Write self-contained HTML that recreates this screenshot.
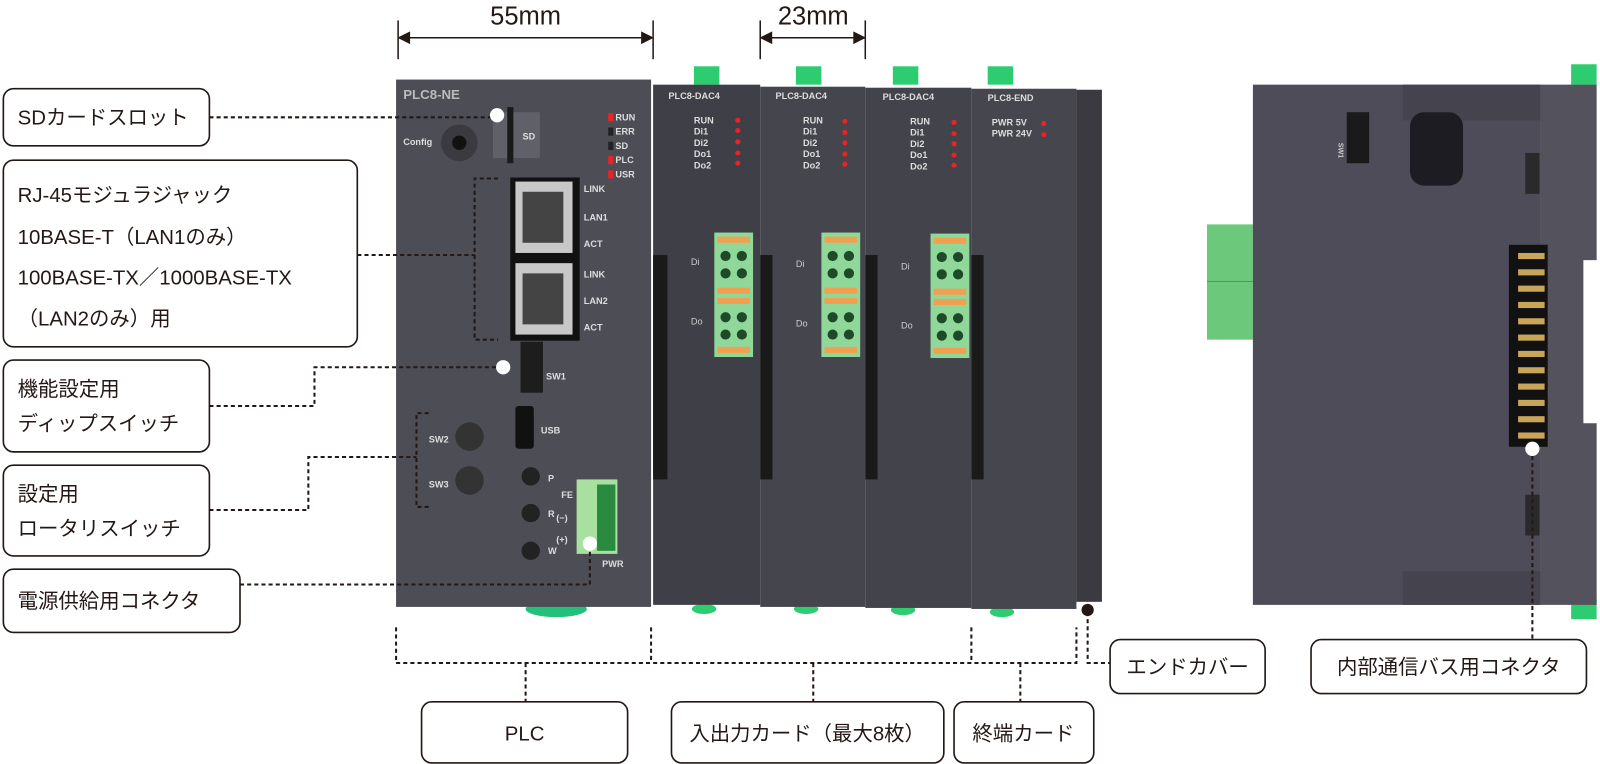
<!DOCTYPE html>
<html><head><meta charset="utf-8"><style>
html,body{margin:0;padding:0;background:#fff;width:1600px;height:764px;overflow:hidden}
svg{display:block}
text{font-family:"Liberation Sans","Noto Sans CJK JP",sans-serif}
.lb{font-size:20px;fill:#231815}
.dl{stroke:#231815;stroke-width:2;stroke-dasharray:4 3;fill:none}
.bx{fill:#fff;stroke:#231815;stroke-width:1.6}
.w{fill:#ddd;font-weight:bold;font-size:9px}
</style></head><body>
<svg width="1600" height="764" viewBox="0 0 1568 749" xmlns="http://www.w3.org/2000/svg">
<!-- dimension lines -->
<g stroke="#231815" stroke-width="1.5" fill="#231815">
<line x1="390" y1="20" x2="390" y2="58"/><line x1="640" y1="20" x2="640" y2="58"/>
<line x1="392" y1="37" x2="638" y2="37"/>
<path d="M391 37 l10 -5 v10z M639 37 l-10 -5 v10z"/>
<line x1="745" y1="20" x2="745" y2="58"/><line x1="848" y1="20" x2="848" y2="58"/>
<line x1="747" y1="37" x2="846" y2="37"/>
<path d="M746 37 l10 -5 v10z M847 37 l-10 -5 v10z"/>
</g>
<text x="515" y="24" font-size="25" text-anchor="middle" fill="#231815">55mm</text>
<text x="797" y="24" font-size="25" text-anchor="middle" fill="#231815">23mm</text>

<!-- front modules -->
<ellipse cx="545" cy="597" rx="30" ry="8" fill="#22c07a"/>
<rect x="388" y="78" width="250" height="517" fill="#4d4d56"/>
<text x="395" y="97" font-size="13" font-weight="bold" fill="#bbb">PLC8-NE</text>
<text x="395" y="142" class="w">Config</text>
<circle cx="450" cy="140" r="18" fill="#3a3a40"/><circle cx="450" cy="140" r="7" fill="#111"/>
<rect x="483" y="110" width="46" height="45" fill="#606068"/><rect x="497" y="105" width="6" height="55" fill="#1a1a1a"/>
<text x="512" y="137" class="w" fill="#999">SD</text>
<g font-size="9" font-weight="bold" fill="#ddd">
<rect x="596" y="111" width="5" height="8" fill="#e22"/><text x="603" y="118">RUN</text>
<rect x="596" y="125" width="5" height="8" fill="#222"/><text x="603" y="132">ERR</text>
<rect x="596" y="139" width="5" height="8" fill="#222"/><text x="603" y="146">SD</text>
<rect x="596" y="153" width="5" height="8" fill="#e22"/><text x="603" y="160">PLC</text>
<rect x="596" y="167" width="5" height="8" fill="#e22"/><text x="603" y="174">USR</text>
<text x="572" y="188">LINK</text><text x="572" y="216">LAN1</text><text x="572" y="242">ACT</text>
<text x="572" y="272">LINK</text><text x="572" y="298">LAN2</text><text x="572" y="324">ACT</text>
<text x="535" y="372">SW1</text><text x="530" y="425">USB</text>
<text x="420" y="434">SW2</text><text x="420" y="478">SW3</text>
<text x="537" y="472">P</text><text x="537" y="507">R</text><text x="537" y="543">W</text>
<text x="550" y="488">FE</text><text x="545" y="511">(−)</text><text x="545" y="532">(+)</text>
<text x="590" y="556">PWR</text>
</g>
<rect x="500" y="174" width="68" height="160" fill="#111"/>
<rect x="505" y="178" width="56" height="70" fill="#c8c8c8"/><rect x="512" y="188" width="40" height="50" fill="#444"/>
<rect x="505" y="258" width="56" height="70" fill="#c8c8c8"/><rect x="512" y="268" width="40" height="50" fill="#444"/>
<rect x="510" y="335" width="22" height="50" fill="#1d1d1d"/>
<rect x="505" y="398" width="18" height="42" rx="3" fill="#111"/>
<circle cx="460" cy="428" r="14" fill="#333"/><circle cx="460" cy="471" r="14" fill="#333"/>
<circle cx="520" cy="467" r="9" fill="#222"/><circle cx="520" cy="503" r="9" fill="#222"/><circle cx="520" cy="540" r="9" fill="#222"/>
<rect x="565" y="470" width="40" height="73" fill="#a8e0a0"/><rect x="585" y="475" width="18" height="65" fill="#2a8a40"/>

<!-- DAC cards -->
<g>
<rect x="680" y="65" width="25" height="18" fill="#2dcc70"/><rect x="780" y="65" width="25" height="18" fill="#2dcc70"/><rect x="875" y="65" width="25" height="18" fill="#2dcc70"/><rect x="968" y="65" width="25" height="18" fill="#2dcc70"/>
<ellipse cx="690" cy="597" rx="12" ry="5" fill="#2dcc70"/><ellipse cx="790" cy="597" rx="12" ry="5" fill="#2dcc70"/><ellipse cx="885" cy="598" rx="12" ry="5" fill="#2dcc70"/><ellipse cx="982" cy="600" rx="12" ry="5" fill="#2dcc70"/>
<rect x="640" y="83" width="105" height="510" fill="#3f3f47"/>
<rect x="745" y="85" width="103" height="510" fill="#45454d"/>
<rect x="848" y="86" width="104" height="510" fill="#43434b"/>
<rect x="952" y="87" width="103" height="510" fill="#46464e"/>
<rect x="1055" y="88" width="25" height="502" fill="#3a3a40"/>
<g fill="#1a1a1a">
<rect x="640" y="250" width="14" height="220"/><rect x="745" y="250" width="12" height="220"/><rect x="848" y="250" width="12" height="220"/><rect x="952" y="250" width="12" height="220"/>
</g>
<g font-size="9" font-weight="bold" fill="#ddd">
<text x="655" y="97">PLC8-DAC4</text><text x="760" y="97">PLC8-DAC4</text><text x="865" y="98">PLC8-DAC4</text><text x="968" y="99">PLC8-END</text>
<text x="680" y="121">RUN</text><text x="680" y="132">Di1</text><text x="680" y="143">Di2</text><text x="680" y="154">Do1</text><text x="680" y="165">Do2</text>
<text x="787" y="121">RUN</text><text x="787" y="132">Di1</text><text x="787" y="143">Di2</text><text x="787" y="154">Do1</text><text x="787" y="165">Do2</text>
<text x="892" y="122">RUN</text><text x="892" y="133">Di1</text><text x="892" y="144">Di2</text><text x="892" y="155">Do1</text><text x="892" y="166">Do2</text>
<text x="972" y="123">PWR 5V</text><text x="972" y="134">PWR 24V</text>
</g>
<g fill="#e22">
<circle cx="723" cy="118" r="2.5"/><circle cx="723" cy="128" r="2.5"/><circle cx="723" cy="139" r="2.5"/><circle cx="723" cy="150" r="2.5"/><circle cx="723" cy="160" r="2.5"/>
<circle cx="828" cy="119" r="2.5"/><circle cx="828" cy="130" r="2.5"/><circle cx="828" cy="140" r="2.5"/><circle cx="828" cy="151" r="2.5"/><circle cx="828" cy="161" r="2.5"/>
<circle cx="935" cy="120" r="2.5"/><circle cx="935" cy="131" r="2.5"/><circle cx="935" cy="141" r="2.5"/><circle cx="935" cy="152" r="2.5"/><circle cx="935" cy="162" r="2.5"/>
<circle cx="1023" cy="121" r="2.5"/><circle cx="1023" cy="132" r="2.5"/>
</g>
<g font-size="9" fill="#ccc">
<text x="677" y="260">Di</text><text x="677" y="318">Do</text>
<text x="780" y="262">Di</text><text x="780" y="320">Do</text>
<text x="883" y="264">Di</text><text x="883" y="322">Do</text>
</g>
<g fill="#8fd89a">
<rect x="700" y="228" width="38" height="122"/><rect x="805" y="228" width="38" height="122"/><rect x="912" y="229" width="38" height="122"/>
</g>
<g fill="#f0a050">
<rect x="703" y="232" width="32" height="6"/><rect x="703" y="282" width="32" height="6"/><rect x="703" y="292" width="32" height="6"/><rect x="703" y="340" width="32" height="6"/>
<rect x="808" y="232" width="32" height="6"/><rect x="808" y="282" width="32" height="6"/><rect x="808" y="292" width="32" height="6"/><rect x="808" y="340" width="32" height="6"/>
<rect x="915" y="233" width="32" height="6"/><rect x="915" y="283" width="32" height="6"/><rect x="915" y="293" width="32" height="6"/><rect x="915" y="341" width="32" height="6"/>
</g>
<g fill="#1f4a28">
<circle cx="711" cy="251" r="5"/><circle cx="727" cy="251" r="5"/><circle cx="711" cy="268" r="5"/><circle cx="727" cy="268" r="5"/>
<circle cx="711" cy="311" r="5"/><circle cx="727" cy="311" r="5"/><circle cx="711" cy="328" r="5"/><circle cx="727" cy="328" r="5"/>
<circle cx="816" cy="251" r="5"/><circle cx="832" cy="251" r="5"/><circle cx="816" cy="268" r="5"/><circle cx="832" cy="268" r="5"/>
<circle cx="816" cy="311" r="5"/><circle cx="832" cy="311" r="5"/><circle cx="816" cy="328" r="5"/><circle cx="832" cy="328" r="5"/>
<circle cx="923" cy="252" r="5"/><circle cx="939" cy="252" r="5"/><circle cx="923" cy="269" r="5"/><circle cx="939" cy="269" r="5"/>
<circle cx="923" cy="312" r="5"/><circle cx="939" cy="312" r="5"/><circle cx="923" cy="329" r="5"/><circle cx="939" cy="329" r="5"/>
</g>
</g>

<!-- side view -->
<rect x="1540" y="63" width="25" height="20" fill="#2dcc70"/><rect x="1540" y="585" width="25" height="22" fill="#2dcc70"/>
<rect x="1183" y="220" width="45" height="113" fill="#6cc87a"/><line x1="1183" y1="276" x2="1228" y2="276" stroke="#4a9a55"/>
<rect x="1228" y="83" width="282" height="510" fill="#4d4c58"/>
<path d="M1510 83 H1565 V255 H1552 V415 H1565 V593 H1510Z" fill="#53525d"/>
<rect x="1375" y="83" width="135" height="35" fill="#45444e"/><rect x="1375" y="560" width="135" height="33" fill="#45444e"/>
<rect x="1382" y="110" width="52" height="72" rx="14" fill="#1c1c22"/>
<rect x="1320" y="110" width="22" height="50" fill="#1a1a1a"/>
<text x="1312" y="140" font-size="7" fill="#ccc" font-weight="bold" transform="rotate(90 1312 140)">SW1</text>
<rect x="1495" y="150" width="14" height="40" fill="#2a2a2a"/><rect x="1495" y="485" width="14" height="40" fill="#2a2a2a"/>
<rect x="1479" y="240" width="38" height="198" fill="#111"/>
<g fill="#c9a55a">
<rect x="1488" y="248" width="26" height="6"/><rect x="1488" y="264" width="26" height="6"/><rect x="1488" y="280" width="26" height="6"/><rect x="1488" y="296" width="26" height="6"/><rect x="1488" y="312" width="26" height="6"/><rect x="1488" y="328" width="26" height="6"/><rect x="1488" y="344" width="26" height="6"/><rect x="1488" y="360" width="26" height="6"/><rect x="1488" y="376" width="26" height="6"/><rect x="1488" y="392" width="26" height="6"/><rect x="1488" y="408" width="26" height="6"/><rect x="1488" y="424" width="26" height="6"/>
</g>

<!-- connectors -->
<path class="dl" d="M205 115 H487"/>
<path class="dl" d="M350 250 H465 M488 175 H465 V333 H488"/>
<path class="dl" d="M205 398 H308 V360 H493"/>
<path class="dl" d="M205 500 H302 V448 H408 M420 405 H408 V497 H420"/>
<path class="dl" d="M235 573 H578 V535"/>
<path class="dl" d="M388 615 V650 H1055 V615 M638 615 V650 M952 615 V650"/>
<path class="dl" d="M515 650 V688 M797 650 V688 M1000 650 V688"/>
<path class="dl" d="M1066 600 V650 H1088"/>
<path class="dl" d="M1502 440 V627"/>
<g fill="#fff"><circle cx="487" cy="113" r="7"/><circle cx="493" cy="360" r="7"/><circle cx="578" cy="533" r="7"/><circle cx="1502" cy="440" r="7"/></g>
<circle cx="1066" cy="598" r="6" fill="#231815"/>

<!-- boxes -->
<rect class="bx" x="3" y="87" width="202" height="56" rx="10"/><text class="lb" x="17" y="122">SDカードスロット</text>
<rect class="bx" x="3" y="157" width="347" height="183" rx="10"/>
<text class="lb" x="17" y="198">RJ-45モジュラジャック</text>
<text class="lb" x="17" y="239">10BASE-T（LAN1のみ）</text>
<text class="lb" x="17" y="279">100BASE-TX／1000BASE-TX</text>
<text class="lb" x="17" y="319">（LAN2のみ）用</text>
<rect class="bx" x="3" y="353" width="202" height="90" rx="10"/><text class="lb" x="17" y="388">機能設定用</text><text class="lb" x="17" y="422">ディップスイッチ</text>
<rect class="bx" x="3" y="456" width="202" height="89" rx="10"/><text class="lb" x="17" y="491">設定用</text><text class="lb" x="17" y="525">ロータリスイッチ</text>
<rect class="bx" x="3" y="558" width="232" height="62" rx="10"/><text class="lb" x="17" y="596">電源供給用コネクタ</text>
<rect class="bx" x="1088" y="627" width="152" height="53" rx="10"/><text class="lb" x="1164" y="661" text-anchor="middle">エンドカバー</text>
<rect class="bx" x="1285" y="627" width="270" height="53" rx="10"/><text class="lb" x="1420" y="661" text-anchor="middle">内部通信バス用コネクタ</text>
<rect class="bx" x="413" y="688" width="202" height="60" rx="10"/><text class="lb" x="514" y="726" text-anchor="middle">PLC</text>
<rect class="bx" x="658" y="688" width="267" height="60" rx="10"/><text class="lb" x="791" y="726" text-anchor="middle">入出力カード（最大8枚）</text>
<rect class="bx" x="935" y="688" width="137" height="60" rx="10"/><text class="lb" x="1003" y="726" text-anchor="middle">終端カード</text>
</svg>
</body></html>
